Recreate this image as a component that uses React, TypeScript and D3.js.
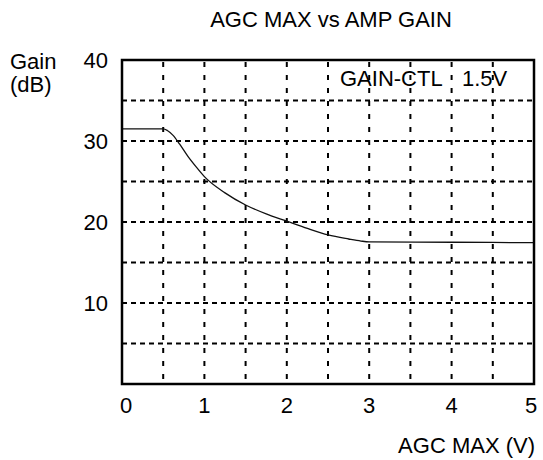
import React from "react";
import * as d3 from "d3";

const agcMax = [0, 0.5, 0.55, 0.62, 0.7, 0.8, 0.9, 1.0, 1.25, 1.5, 1.75, 2.0, 2.25, 2.5, 2.75, 2.9, 3.0, 4.0, 5.0];
const gain = [31.5, 31.5, 31.3, 30.7, 29.6, 28.1, 26.8, 25.6, 23.6, 22.1, 21.0, 20.1, 19.2, 18.4, 17.9, 17.65, 17.55, 17.5, 17.45];
const xTicks = [0, 1, 2, 3, 4, 5];
const yTicks = [10, 20, 30, 40];
const xGrid = [0.5, 1, 1.5, 2, 2.5, 3, 3.5, 4, 4.5];
const yGrid = [5, 10, 15, 20, 25, 30, 35];

export default function App() {
  const W = 543, H = 460;
  const x = d3.scaleLinear().domain([0, 5]).range([122, 534]);
  const y = d3.scaleLinear().domain([0, 40]).range([384, 60]);
  const pts = agcMax.map((v, i) => [v, gain[i]] as [number, number]);
  const line = d3.line<[number, number]>().x(d => x(d[0])).y(d => y(d[1])).curve(d3.curveMonotoneX);
  const font = "'Liberation Sans', Arial, sans-serif";
  return (
    <svg width={W} height={H} style={{ position: "absolute", left: 0, top: 0, background: "#fff" }} fontFamily={font}>
      <rect x={0} y={0} width={W} height={H} fill="#fff" />
      <text x={331} y={27} textAnchor="middle" fontSize={22} fill="#000">AGC MAX vs AMP GAIN</text>
      <text x={10} y={69} fontSize={22} fill="#000">Gain</text>
      <text x={10} y={92} fontSize={22} fill="#000">(dB)</text>
      {xGrid.map(v => (
        <line key={"xg" + v} x1={x(v)} x2={x(v)} y1={y(40)} y2={y(0)} stroke="#000" strokeWidth={2} strokeDasharray="5,8" strokeDashoffset={-2} />
      ))}
      {yGrid.map(v => (
        <line key={"yg" + v} x1={x(0)} x2={x(5)} y1={y(v)} y2={y(v)} stroke="#000" strokeWidth={2} strokeDasharray="5,4" />
      ))}
      <text x={340} y={86} fontSize={22} fill="#000">GAIN-CTL</text>
      <text x={462} y={86} fontSize={22} fill="#000">1.5V</text>
      <path d={line(pts) || ""} fill="none" stroke="#111" strokeWidth={1.3} />
      <rect x={x(0)} y={y(40)} width={x(5) - x(0)} height={y(0) - y(40)} fill="none" stroke="#000" strokeWidth={2.5} />
      {yTicks.map(v => (
        <text key={"yt" + v} x={108} y={y(v) + 8} textAnchor="end" fontSize={22} fill="#000">{v}</text>
      ))}
      {xTicks.map(v => (
        <text key={"xt" + v} x={x(v) + (v === 0 ? 4 : v === 5 ? -3 : 0)} y={413} textAnchor="middle" fontSize={22} fill="#000">{v}</text>
      ))}
      <text x={535} y={453} textAnchor="end" fontSize={22} fill="#000">AGC MAX (V)</text>
    </svg>
  );
}
